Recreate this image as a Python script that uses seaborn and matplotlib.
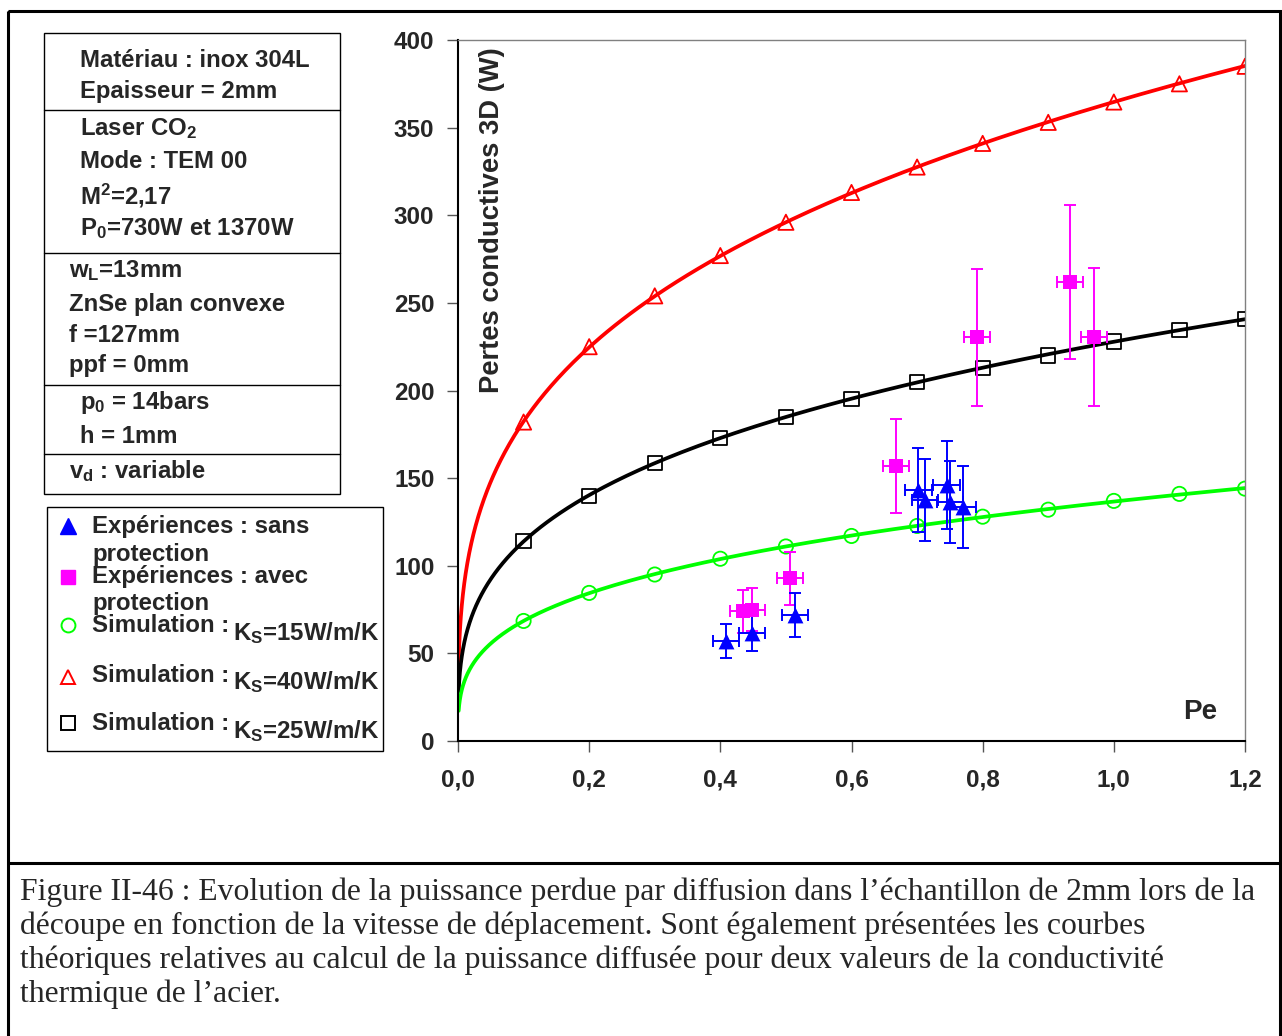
import numpy as np
import pandas as pd
import matplotlib
matplotlib.use("Agg")
import matplotlib.pyplot as plt
import seaborn as sns
from matplotlib.patches import Rectangle

# Simulation (Pe, pertes en W)
pe_sim = [0.1, 0.2, 0.3, 0.4, 0.5, 0.6, 0.7, 0.8, 0.9, 1.0, 1.1, 1.2]
sim_ks15 = [68.5, 84.5, 95, 104, 111, 117, 122.7, 128, 132, 137, 141, 144]
sim_ks40 = [182, 225, 254, 277, 296, 313, 327.5, 341, 353, 364.6, 375, 385]
sim_ks25 = [114, 140, 158.6, 173, 185, 195, 205, 213, 220, 228, 234.5, 241]

# Experiences sans protection
sans_pe = [0.409, 0.448, 0.514, 0.702, 0.712, 0.745, 0.750, 0.770]
sans_w = [56.8, 61.4, 71.9, 143, 137.5, 146, 136.5, 133.7]
sans_err = [9.7, 10, 12.4, 24, 23.5, 25, 23.4, 23.4]

# Experiences avec protection
avec_pe = [0.435, 0.448, 0.506, 0.668, 0.791, 0.933, 0.970]
avec_w = [74, 75, 92.8, 156.9, 230.4, 261.7, 230.7]
avec_err = [12.4, 12.4, 15.2, 26.8, 39, 44, 39.4]

pe_err = 0.02

x_ticks = [0.0, 0.2, 0.4, 0.6, 0.8, 1.0, 1.2]
x_tick_labels = ['0,0', '0,2', '0,4', '0,6', '0,8', '1,0', '1,2']
y_ticks = [0, 50, 100, 150, 200, 250, 300, 350, 400]

caption = [
    "Figure II-46 : Evolution de la puissance perdue par diffusion dans l\u2019\u00e9chantillon de 2mm lors de la",
    "d\u00e9coupe en fonction de la vitesse de d\u00e9placement. Sont \u00e9galement pr\u00e9sent\u00e9es les courbes",
    "th\u00e9oriques relatives au calcul de la puissance diffus\u00e9e pour deux valeurs de la conductivit\u00e9",
    "thermique de l\u2019acier.",
]

RED, GREEN, BLUE, PINK = '#FF0000', '#00FF00', '#0000FF', '#FF00FF'

sns.set_style("ticks")
plt.rcParams['font.family'] = ['Liberation Sans', 'DejaVu Sans']
plt.rcParams['font.weight'] = 'bold'
plt.rcParams['mathtext.fontset'] = 'custom'
plt.rcParams['mathtext.rm'] = 'Liberation Sans:bold'
plt.rcParams['mathtext.it'] = 'Liberation Sans:bold'
plt.rcParams['mathtext.bf'] = 'Liberation Sans:bold'

W, H = 1282, 1036
fig = plt.figure(figsize=(W / 100, H / 100), dpi=100)

# pixel-coordinate overlay for the frames, text box, legend and caption
bg = fig.add_axes([0, 0, 1, 1], zorder=0)
bg.set_xlim(0, W)
bg.set_ylim(H, 0)
bg.axis('off')

ax = fig.add_axes([458 / W, 1 - 741 / H, (1245 - 458) / W, (741 - 40) / H], zorder=1)
ax.patch.set_alpha(0)

# power trend lines fitted on the simulation points (like the spreadsheet trendline)
x_fit = np.geomspace(0.001, 1.2, 300)
rows = []
for name, vals in [('ks40', sim_ks40), ('ks25', sim_ks25), ('ks15', sim_ks15)]:
    b, ln_a = np.polyfit(np.log(pe_sim), np.log(vals), 1)
    rows.append(pd.DataFrame({'pe': x_fit, 'w': np.exp(ln_a) * x_fit ** b, 'serie': name}))
df_fit = pd.concat(rows)
sns.lineplot(data=df_fit, x='pe', y='w', hue='serie', estimator=None, sort=True,
             palette={'ks40': RED, 'ks25': 'black', 'ks15': GREEN},
             linewidth=2.7, legend=False, ax=ax, zorder=2)

# simulation markers (open)
sns.scatterplot(x=pe_sim, y=sim_ks40, marker='^', s=120, facecolors='none',
                edgecolor=RED, linewidth=1.3, ax=ax, zorder=3)
sns.scatterplot(x=pe_sim, y=sim_ks25, marker='s', s=105, facecolors='none',
                edgecolor='black', linewidth=1.3, ax=ax, zorder=3)
sns.scatterplot(x=pe_sim, y=sim_ks15, marker='o', s=105, facecolors='none',
                edgecolor=GREEN, linewidth=1.3, ax=ax, zorder=3)

# experiments with error bars
ax.errorbar(avec_pe, avec_w, xerr=pe_err, yerr=avec_err, fmt='none', ecolor=PINK,
            elinewidth=1.4, capsize=4, capthick=1.4, zorder=4)
sns.scatterplot(x=avec_pe, y=avec_w, marker='s', s=115, color=PINK, edgecolor=PINK,
                linewidth=0, ax=ax, zorder=5)
ax.errorbar(sans_pe, sans_w, xerr=pe_err, yerr=sans_err, fmt='none', ecolor=BLUE,
            elinewidth=1.4, capsize=4, capthick=1.4, zorder=4)
sns.scatterplot(x=sans_pe, y=sans_w, marker='^', s=130, color=BLUE, edgecolor=BLUE,
                linewidth=0, ax=ax, zorder=5)

ax.set_xlim(0, 1.2)
ax.set_ylim(0, 400)
ax.set_xticks(x_ticks)
ax.set_xticklabels(x_tick_labels)
ax.set_yticks(y_ticks)
ax.set_xlabel('')
ax.set_ylabel('')
ax.tick_params(axis='both', direction='out', length=8, width=1, color='#555555', labelsize=17.5)
ax.tick_params(axis='x', pad=12)
ax.tick_params(axis='y', pad=9)
for s in ['left', 'bottom']:
    ax.spines[s].set_color('black')
    ax.spines[s].set_linewidth(1.5)
for s in ['top', 'right']:
    ax.spines[s].set_visible(True)
    ax.spines[s].set_color('#808080')
    ax.spines[s].set_linewidth(1)

ax.text(0.043, 0.99, 'Pertes conductives 3D (W)', rotation=90, transform=ax.transAxes,
        ha='center', va='top', fontsize=19.7)
ax.text(0.943, 0.041, 'Pe', transform=ax.transAxes, ha='center', va='center', fontsize=20)

# outer frame and separator
bg.add_patch(Rectangle((8, 11), 1280 - 8, 1040 - 11, fill=False, ec='black', lw=2.2))
bg.plot([8, 1280], [862.5, 862.5], color='black', lw=2.2)

# parameter box
bg.add_patch(Rectangle((44, 33), 340 - 44, 494 - 33, fill=False, ec='black', lw=1))
for yy in [110, 253, 385, 454]:
    bg.plot([44, 340], [yy, yy], color='black', lw=1)
box_lines = [
    (80, 67, 'Mat\u00e9riau : inox 304L'),
    (80, 98, 'Epaisseur = 2mm'),
    (80, 135, 'Laser CO$_2$'),
    (80, 168, 'Mode : TEM 00'),
    (80, 204, 'M$^2$=2,17'),
    (80, 235, 'P$_0$=730W et 1370W'),
    (69, 277, 'w$_L$=13mm'),
    (69, 311, 'ZnSe plan convexe'),
    (69, 342, 'f =127mm'),
    (69, 372, 'ppf = 0mm'),
    (80, 409, 'p$_0$ = 14bars'),
    (80, 443, 'h = 1mm'),
    (69, 478, 'v$_d$ : variable'),
]
for xx, yy, txt in box_lines:
    bg.text(xx, yy, txt, ha='left', va='baseline', fontsize=17.2)

# legend
bg.add_patch(Rectangle((47, 507), 383 - 47, 751 - 507, fill=False, ec='black', lw=1))
bg.plot(68, 526, marker='^', ms=12, color=BLUE, mec=BLUE)
bg.plot(68, 577, marker='s', ms=10.5, color=PINK, mec=PINK)
bg.plot(68, 625, marker='o', ms=10, mfc='none', mec=GREEN, mew=1.4)
bg.plot(68, 677, marker='^', ms=10, mfc='none', mec=RED, mew=1.4)
bg.plot(68, 723, marker='s', ms=10, mfc='none', mec='black', mew=1.4)
leg_lines = [
    (92, 533, 'Exp\u00e9riences : sans'),
    (92, 561, 'protection'),
    (92, 583, 'Exp\u00e9riences : avec'),
    (92, 610, 'protection'),
    (92, 632, 'Simulation :'),
    (233, 640, 'K$_S$=15W/m/K'),
    (92, 682, 'Simulation :'),
    (233, 689, 'K$_S$=40W/m/K'),
    (92, 730, 'Simulation :'),
    (233, 738, 'K$_S$=25W/m/K'),
]
for xx, yy, txt in leg_lines:
    bg.text(xx, yy, txt, ha='left', va='baseline', fontsize=17.3)

# caption
for i, line in enumerate(caption):
    bg.text(20, 900 + 34 * i, line, ha='left', va='baseline', fontsize=22.8,
            family=['Liberation Serif', 'DejaVu Serif'], weight='normal')

fig.savefig('out.png', dpi=100)
